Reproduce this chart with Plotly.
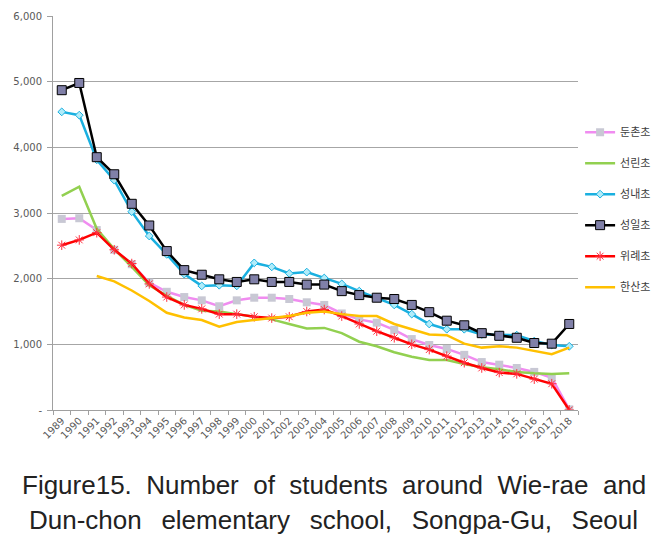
import plotly.graph_objects as go

years = [str(y) for y in range(1989, 2019)]

dunchon = [2910, 2920, 2740, 2440, 2220, 1940, 1800, 1720, 1670, 1580, 1670, 1710, 1710, 1690, 1640,
           1600, 1470, 1380, 1330, 1220, 1080, 990, 930, 840, 730, 690, 640, 580, 490, 10]
seonrin = [3260, 3400, 2760, 2450, 2180, 1900, 1740, 1600, 1510, 1500, 1460, 1420, 1380, 1310, 1240,
           1250, 1170, 1040, 970, 880, 810, 760, 760, 700, 650, 620, 580, 560, 550, 560]
seongnae = [4540, 4490, 3810, 3500, 3020, 2650, 2370, 2070, 1890, 1900, 1890, 2240, 2180, 2080, 2100,
            2010, 1920, 1810, 1710, 1600, 1460, 1310, 1230, 1230, 1150, 1140, 1140, 1050, 990, 970]
seongil = [4870, 4980, 3850, 3590, 3140, 2810, 2420, 2130, 2060, 1990, 1950, 1990, 1950, 1950, 1910,
           1910, 1810, 1750, 1710, 1690, 1600, 1490, 1360, 1290, 1170, 1130, 1100, 1020, 1010, 1310]
wirye = [2510, 2590, 2700, 2440, 2230, 1920, 1720, 1600, 1540, 1460, 1460, 1420, 1400, 1420, 1500,
         1530, 1430, 1310, 1200, 1100, 1000, 920, 820, 720, 640, 570, 550, 470, 400, 0]
hansan_years = years[2:]
hansan = [2040, 1960, 1820, 1660, 1480, 1410, 1370, 1270, 1340, 1370, 1400, 1430, 1480,
          1500, 1460, 1430, 1430, 1310, 1230, 1150, 1140, 1010, 950, 970, 950, 900, 850, 950]

y_ticks = [0, 1000, 2000, 3000, 4000, 5000, 6000]
y_ticktext = ["-", "1,000", "2,000", "3,000", "4,000", "5,000", "6,000"]

title_line1 = "Figure15. Number of students around Wie-rae and"
title_line2 = "Dun-chon elementary school, Songpa-Gu, Seoul"

fig = go.Figure()

def add(name, x, y, color, marker=None):
    kw = dict(x=x, y=y, name=name, line=dict(color=color, width=2.5),
              legendgroup=name)
    if marker:
        kw["mode"] = "lines+markers"
        kw["marker"] = marker
    else:
        kw["mode"] = "lines"
    fig.add_trace(go.Scatter(**kw))

add("둔촌초", years, dunchon, "#f08cf0",
    marker=dict(symbol="square", size=8, color="#c8c8d4", line=dict(width=0)))
add("선린초", years, seonrin, "#92d050")
add("성내초", years, seongnae, "#1ab0e0",
    marker=dict(symbol="diamond", size=6, color="#b0ecfa", line=dict(color="#1ab0e0", width=1)))
add("성일초", years, seongil, "#000000",
    marker=dict(symbol="square", size=9, color="#8080a8", line=dict(color="#000000", width=1)))
add("위례초", years, wirye, "#ff0000",
    marker=dict(symbol="asterisk-open", size=8, color="#ff3040", line=dict(color="#ff3040", width=1)))
add("한산초", hansan_years, hansan, "#ffc000")

fig.update_layout(
    width=668, height=535,
    margin=dict(l=45, r=98, t=8, b=133),
    paper_bgcolor="white", plot_bgcolor="white",
    font=dict(family="DejaVu Sans", size=10, color="#595959"),
    showlegend=True,
    legend=dict(x=1.004, y=0.742, xanchor="left", yanchor="top",
                font=dict(family="Noto Sans CJK KR", size=11, color="#404040"),
                tracegroupgap=12, itemwidth=30, bgcolor="rgba(0,0,0,0)"),
    xaxis=dict(type="category", categoryorder="array", categoryarray=years,
               range=[-0.5, 29.5], tickangle=-45, tickson="boundaries",
               ticks="outside", ticklen=4, tickcolor="#a0a0a0", automargin=False,
               showline=True, linecolor="#a0a0a0", linewidth=1,
               showgrid=False, tickfont=dict(size=10, color="#595959")),
    yaxis=dict(range=[0, 6000], tickvals=y_ticks, ticktext=y_ticktext,
               ticks="outside", ticklen=5, tickcolor="#a0a0a0", automargin=False,
               ticklabelstandoff=3,
               showline=True, linecolor="#a0a0a0", linewidth=1,
               showgrid=True, gridcolor="#a6a6a6", gridwidth=1,
               zeroline=False, tickfont=dict(size=10, color="#595959")),
)

fig.add_annotation(text=title_line1.replace(" ", " \u00a0"),
                   xref="paper", yref="paper", x=(326 - 45) / 525, y=(402 - 477) / 394,
                   xanchor="center", yanchor="middle", showarrow=False,
                   font=dict(family="Liberation Sans", size=26, color="#222222"))
fig.add_annotation(text=title_line2.replace(" ", " \u00a0\u2009"),
                   xref="paper", yref="paper", x=(325 - 45) / 525, y=(402 - 512) / 394,
                   xanchor="center", yanchor="middle", showarrow=False,
                   font=dict(family="Liberation Sans", size=26, color="#222222"))

fig.write_html("out.html")
